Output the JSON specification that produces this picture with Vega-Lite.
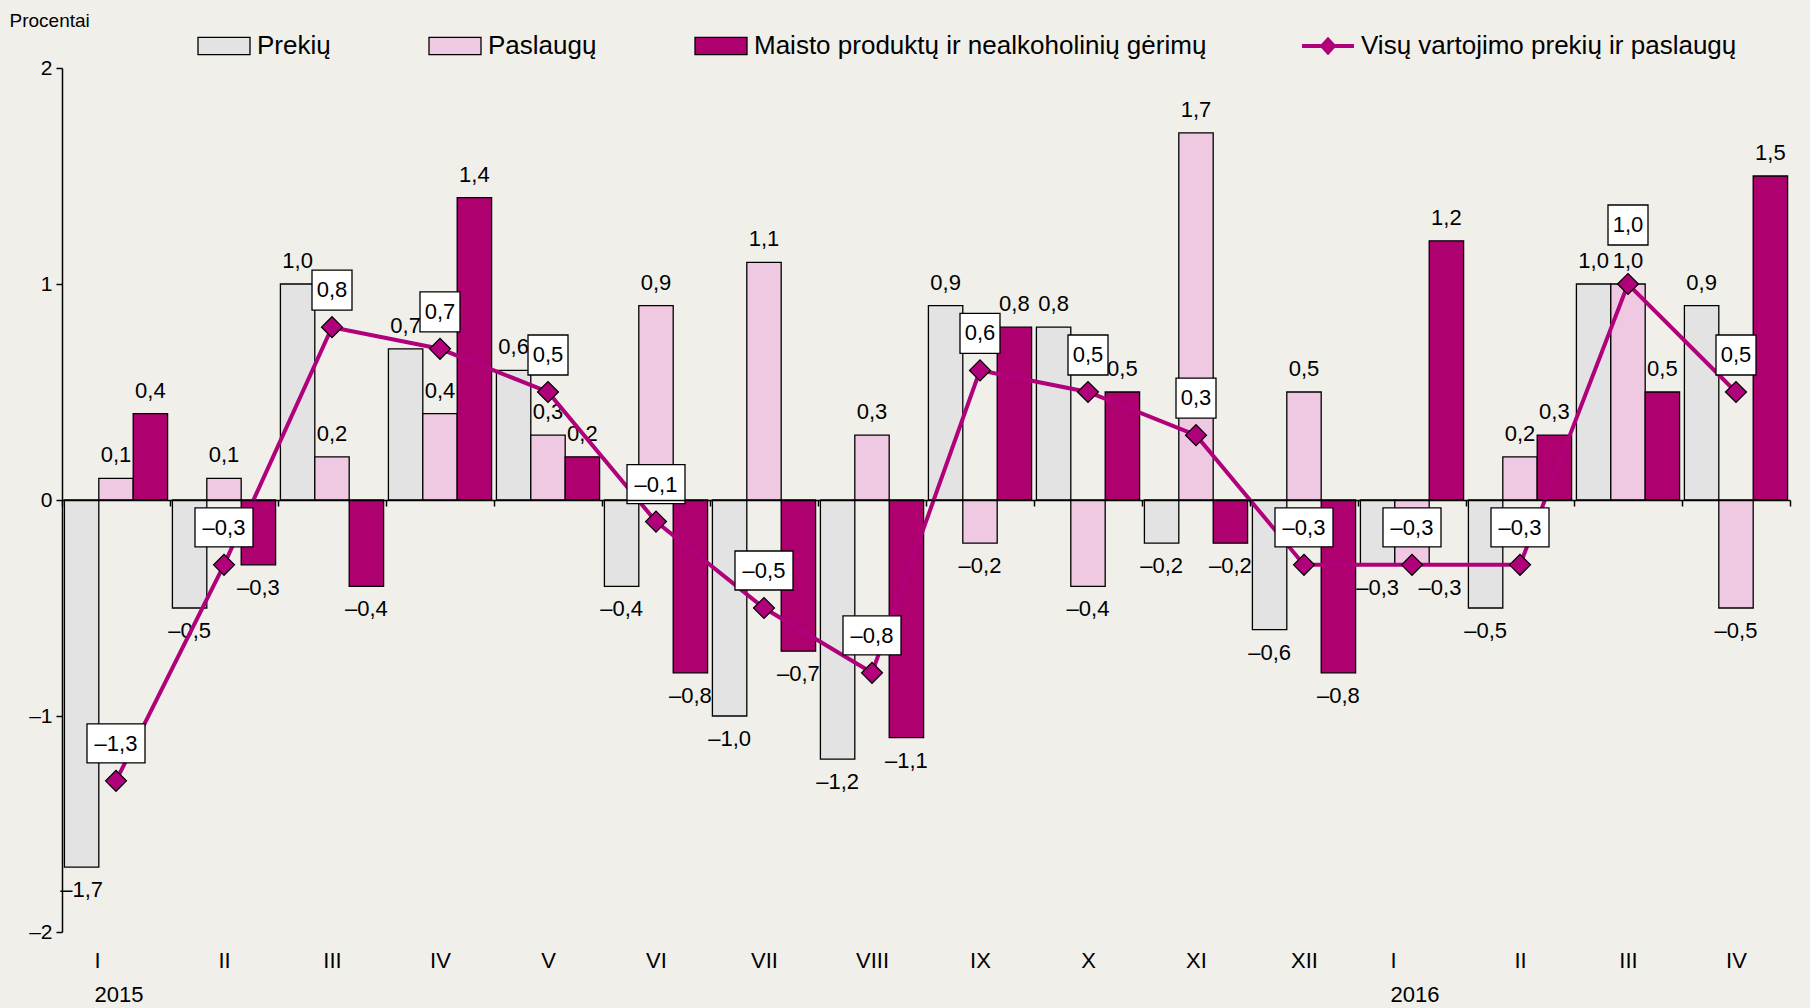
{
  "$schema": "https://vega.github.io/schema/vega-lite/v6.json",
  "width": 1728,
  "height": 864,
  "autosize": {"type": "none"},
  "padding": {"left": 62, "top": 68, "right": 20, "bottom": 76},
  "background": "#F0EFEA",
  "config": {
    "view": {"stroke": null},
    "font": "Liberation Sans",
    "axis": {"labelFont": "Liberation Sans", "titleFont": "Liberation Sans", "labelColor": "black", "titleColor": "black"},
    "legend": {"labelFont": "Liberation Sans", "labelColor": "black"}
  },
  "data": {
    "values": [
      {"month": "I 2015", "prekiu": -1.7, "paslaugu": 0.1, "maisto": 0.4, "visu": -1.3},
      {"month": "II 2015", "prekiu": -0.5, "paslaugu": 0.1, "maisto": -0.3, "visu": -0.3},
      {"month": "III 2015", "prekiu": 1.0, "paslaugu": 0.2, "maisto": -0.4, "visu": 0.8},
      {"month": "IV 2015", "prekiu": 0.7, "paslaugu": 0.4, "maisto": 1.4, "visu": 0.7},
      {"month": "V 2015", "prekiu": 0.6, "paslaugu": 0.3, "maisto": 0.2, "visu": 0.5},
      {"month": "VI 2015", "prekiu": -0.4, "paslaugu": 0.9, "maisto": -0.8, "visu": -0.1},
      {"month": "VII 2015", "prekiu": -1.0, "paslaugu": 1.1, "maisto": -0.7, "visu": -0.5},
      {"month": "VIII 2015", "prekiu": -1.2, "paslaugu": 0.3, "maisto": -1.1, "visu": -0.8},
      {"month": "IX 2015", "prekiu": 0.9, "paslaugu": -0.2, "maisto": 0.8, "visu": 0.6},
      {"month": "X 2015", "prekiu": 0.8, "paslaugu": -0.4, "maisto": 0.5, "visu": 0.5},
      {"month": "XI 2015", "prekiu": -0.2, "paslaugu": 1.7, "maisto": -0.2, "visu": 0.3},
      {"month": "XII 2015", "prekiu": -0.6, "paslaugu": 0.5, "maisto": -0.8, "visu": -0.3},
      {"month": "I 2016", "prekiu": -0.3, "paslaugu": -0.3, "maisto": 1.2, "visu": -0.3},
      {"month": "II 2016", "prekiu": -0.5, "paslaugu": 0.2, "maisto": 0.3, "visu": -0.3},
      {"month": "III 2016", "prekiu": 1.0, "paslaugu": 1.0, "maisto": 0.5, "visu": 1.0},
      {"month": "IV 2016", "prekiu": 0.9, "paslaugu": -0.5, "maisto": 1.5, "visu": 0.5}
    ]
  },
  "layer": [
    {
      "transform": [{"fold": ["prekiu", "paslaugu", "maisto"], "as": ["key", "value"]}],
      "mark": {"type": "bar", "stroke": "black", "strokeWidth": 1.3},
      "encoding": {
        "x": {
          "field": "month", "type": "nominal", "sort": null,
          "scale": {"domain": ["I 2015", "II 2015", "III 2015", "IV 2015", "V 2015", "VI 2015", "VII 2015", "VIII 2015", "IX 2015", "X 2015", "XI 2015", "XII 2015", "I 2016", "II 2016", "III 2016", "IV 2016"], "paddingInner": 0, "paddingOuter": 0},
          "axis": {
            "orient": "bottom", "offset": -432, "title": null, "zindex": 1,
            "domainColor": "black", "domainWidth": 1.5,
            "tickColor": "black", "tickWidth": 1.5, "tickSize": 6, "tickBand": "extent",
            "labelAngle": 0, "labelPadding": 444, "labelFontSize": 22, "labelLineHeight": 34,
            "labelOverlap": false, "labelBound": false, "labelFlush": false, "labelBaseline": "top",
            "labelAlign": {"condition": {"test": "isString(datum.value) && indexof(datum.value, 'I ') == 0", "value": "left"}, "value": "center"},
            "labelOffset": {"condition": {"test": "isString(datum.value) && indexof(datum.value, 'I ') == 0", "value": -22}, "value": 0},
            "labelExpr": "!isString(datum.value) ? '' : datum.value == 'I 2015' ? ['I', '2015'] : datum.value == 'I 2016' ? ['I', '2016'] : split(datum.value, ' ')[0]"
          }
        },
        "xOffset": {"field": "key", "type": "nominal", "sort": ["prekiu", "paslaugu", "maisto"], "scale": {"paddingInner": 0, "paddingOuter": 0.07}},
        "y": {
          "field": "value", "type": "quantitative",
          "scale": {"domain": [-2, 2], "nice": false},
          "axis": {
            "title": "Procentai", "titleAngle": 0, "titleAlign": "left", "titleBaseline": "middle",
            "titleX": -53, "titleY": -48, "titleFontSize": 19, "titleFontWeight": "normal",
            "values": [-2, -1, 0, 1, 2], "grid": false,
            "labelExpr": "datum.value < 0 ? '–' + abs(datum.value) : '' + datum.value",
            "labelFontSize": 21, "labelPadding": 4, "tickSize": 6,
            "domainColor": "black", "domainWidth": 1.5, "tickColor": "black", "tickWidth": 1.5
          }
        },
        "color": {
          "field": "key", "type": "nominal",
          "scale": {"domain": ["prekiu", "paslaugu", "maisto", "visu"], "range": ["#E3E3E3", "#EFC8E2", "#AF0070", "#B0007A"]},
          "legend": {
            "title": null, "orient": "none", "legendX": 149, "legendY": -35,
            "direction": "horizontal", "columns": 4, "columnPadding": 95, "gridAlign": "none",
            "padding": 0,
            "symbolType": "M-1,-0.33L1,-0.33L1,0.33L-1,0.33Z", "symbolSize": 2704,
            "symbolStrokeColor": "black", "symbolStrokeWidth": 1.3,
            "labelFontSize": 26, "labelOffset": 20, "labelLimit": 800,
            "labelExpr": "{'prekiu': 'Prekių', 'paslaugu': 'Paslaugų', 'maisto': 'Maisto produktų ir nealkoholinių gėrimų', 'visu': 'Visų vartojimo prekių ir paslaugų'}[datum.value]",
            "encode": {
              "symbols": {
                "update": {
                  "shape": {"signal": "datum.value === 'visu' ? 'M-1,-0.08L1,-0.08L1,0.08L-1,0.08Z M0,-0.36L0.33,0L0,0.36L-0.33,0Z' : 'M-1,-0.33L1,-0.33L1,0.33L-1,0.33Z'"},
                  "stroke": {"value": "black"},
                  "strokeWidth": {"signal": "datum.value === 'visu' ? 0 : 1.3"},
                  "opacity": {"value": 1}
                }
              }
            }
          }
        }
      }
    },
    {
      "transform": [
        {"fold": ["prekiu", "paslaugu", "maisto"], "as": ["key", "value"]},
        {"filter": "datum.value >= 0"},
        {"calculate": "replace(format(abs(datum.value), '.1f'), '.', ',')", "as": "lbl"}
      ],
      "mark": {"type": "text", "fontSize": 22, "baseline": "middle", "align": "center", "dy": -23, "color": "black"},
      "encoding": {
        "x": {"field": "month", "type": "nominal", "sort": null},
        "xOffset": {"field": "key", "type": "nominal", "sort": ["prekiu", "paslaugu", "maisto"]},
        "y": {"field": "value", "type": "quantitative"},
        "text": {"field": "lbl", "type": "nominal"}
      }
    },
    {
      "transform": [
        {"fold": ["prekiu", "paslaugu", "maisto"], "as": ["key", "value"]},
        {"filter": "datum.value < 0 && !(datum.key == 'paslaugu' && datum.prekiu < 0 && abs(datum.prekiu - datum.value) < 0.15)"},
        {"calculate": "'–' + replace(format(abs(datum.value), '.1f'), '.', ',')", "as": "lbl"}
      ],
      "mark": {"type": "text", "fontSize": 22, "baseline": "middle", "align": "center", "dy": 23, "color": "black"},
      "encoding": {
        "x": {"field": "month", "type": "nominal", "sort": null},
        "xOffset": {"field": "key", "type": "nominal", "sort": ["prekiu", "paslaugu", "maisto"]},
        "y": {"field": "value", "type": "quantitative"},
        "text": {"field": "lbl", "type": "nominal"}
      }
    },
    {
      "transform": [
        {"fold": ["prekiu", "paslaugu", "maisto"], "as": ["key", "value"]},
        {"filter": "datum.value < 0 && datum.key == 'paslaugu' && datum.prekiu < 0 && abs(datum.prekiu - datum.value) < 0.15"},
        {"calculate": "'–' + replace(format(abs(datum.value), '.1f'), '.', ',')", "as": "lbl"}
      ],
      "mark": {"type": "text", "fontSize": 22, "baseline": "middle", "align": "center", "dy": 23, "dx": 28, "color": "black"},
      "encoding": {
        "x": {"field": "month", "type": "nominal", "sort": null},
        "xOffset": {"field": "key", "type": "nominal", "sort": ["prekiu", "paslaugu", "maisto"]},
        "y": {"field": "value", "type": "quantitative"},
        "text": {"field": "lbl", "type": "nominal"}
      }
    },
    {
      "mark": {"type": "line", "color": "#B0007A", "strokeWidth": 4},
      "encoding": {
        "x": {"field": "month", "type": "nominal", "sort": null},
        "y": {"field": "visu", "type": "quantitative"}
      }
    },
    {
      "mark": {"type": "point", "shape": "diamond", "filled": true, "fill": "#B0007A", "stroke": "black", "strokeWidth": 1.2, "size": 440, "opacity": 1},
      "encoding": {
        "x": {"field": "month", "type": "nominal", "sort": null},
        "y": {"field": "visu", "type": "quantitative"}
      }
    },
    {
      "mark": {"type": "point", "filled": true, "fill": "white", "stroke": "black", "strokeWidth": 1.3, "size": 1600, "opacity": 1},
      "encoding": {
        "x": {"field": "month", "type": "nominal", "sort": null},
        "y": {"field": "visu", "type": "quantitative"},
        "shape": {
          "condition": [
            {"test": "datum.visu >= 1", "value": "M-1,-3.95L1,-3.95L1,-1.95L-1,-1.95Z"},
            {"test": "datum.visu < 0", "value": "M-1.45,-2.85L1.45,-2.85L1.45,-0.9L-1.45,-0.9Z"}
          ],
          "value": "M-1,-2.85L1,-2.85L1,-0.85L-1,-0.85Z"
        }
      }
    },
    {
      "transform": [
        {"filter": "datum.visu < 1"},
        {"calculate": "(datum.visu < 0 ? '–' : '') + replace(format(abs(datum.visu), '.1f'), '.', ',')", "as": "lbl"}
      ],
      "mark": {"type": "text", "fontSize": 22, "baseline": "middle", "align": "center", "dy": -37, "color": "black"},
      "encoding": {
        "x": {"field": "month", "type": "nominal", "sort": null},
        "y": {"field": "visu", "type": "quantitative"},
        "text": {"field": "lbl", "type": "nominal"}
      }
    },
    {
      "transform": [
        {"filter": "datum.visu >= 1"},
        {"calculate": "replace(format(abs(datum.visu), '.1f'), '.', ',')", "as": "lbl"}
      ],
      "mark": {"type": "text", "fontSize": 22, "baseline": "middle", "align": "center", "dy": -59, "color": "black"},
      "encoding": {
        "x": {"field": "month", "type": "nominal", "sort": null},
        "y": {"field": "visu", "type": "quantitative"},
        "text": {"field": "lbl", "type": "nominal"}
      }
    }
  ]
}
